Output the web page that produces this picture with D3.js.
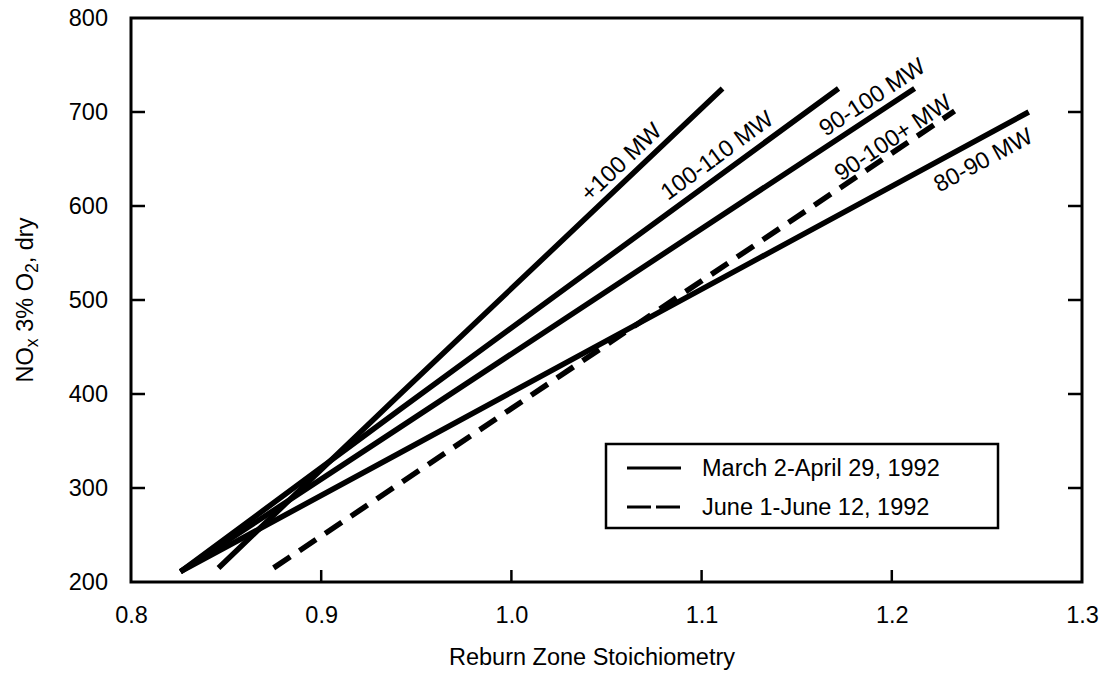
<!DOCTYPE html>
<html><head><meta charset="utf-8">
<script src="https://cdn.jsdelivr.net/npm/d3@7"></script>
<style>
html,body{margin:0;padding:0;background:#fff;}
svg text{font-family:"Liberation Sans",Arial,Helvetica,sans-serif;fill:#000;}
</style></head>
<body><svg id="c" width="1111" height="673"></svg>
<script>
// ---- data ----
const xTickValues = [0.8, 0.9, 1.0, 1.1, 1.2, 1.3];
const yTickValues = [200, 300, 400, 500, 600, 700, 800];
const seriesNames = ["+100 MW", "100-110 MW", "90-100 MW", "90-100+ MW", "80-90 MW"];
const seriesPeriod = ["mar", "mar", "mar", "jun", "mar"];
const seriesX = [
  [0.846, 0.941, 1.111],
  [0.826, 0.941, 1.172],
  [0.826, 0.941, 1.212],
  [0.875, 0.940, 1.233],
  [0.826, 0.941, 1.272]
];
const seriesY = [
  [215, 399, 725],
  [211, 383, 725],
  [211, 364, 725],
  [215, 303, 701],
  [211, 337, 700]
];
const labelX = [1.0576, 1.108, 1.1896, 1.2006, 1.248];
const labelY = [647, 654, 716, 673, 649];
const legendLabels = ["March 2-April 29, 1992", "June 1-June 12, 1992"];
const legendPeriods = ["mar", "jun"];

// ---- layout ----
const svg = d3.select("#c");
const L = 131, R = 1082, T = 18, B = 582;
const x = d3.scaleLinear().domain([0.8, 1.3]).range([L, R]);
const y = d3.scaleLinear().domain([200, 800]).range([B, T]);
const FS = 23.5;
const dashFor = p => p === "jun" ? "20,11" : null;

// frame
svg.append("rect").attr("x", L).attr("y", T).attr("width", R - L).attr("height", B - T)
  .attr("fill", "none").attr("stroke", "#000").attr("stroke-width", 3);

// axes (inward ticks)
const inner = v => v > 200 && v < 800;
const innerX = v => v > 0.8 + 1e-9 && v < 1.3 - 1e-9;
const fmtX = d3.format(".1f");
const gx = svg.append("g").attr("transform", `translate(0,${B})`)
  .call(d3.axisBottom(x).tickValues(xTickValues).tickSize(0).tickPadding(24).tickFormat(fmtX));
gx.select(".domain").remove();
gx.selectAll("text").attr("font-size", FS).attr("font-family", "Liberation Sans, Arial, sans-serif");
svg.append("g").selectAll("line").data(xTickValues.filter(innerX)).join("line")
  .attr("x1", d => x(d)).attr("x2", d => x(d)).attr("y1", B).attr("y2", B - 12)
  .attr("stroke", "#000").attr("stroke-width", 2.5);

const gy = svg.append("g").attr("transform", `translate(${L},0)`)
  .call(d3.axisLeft(y).tickValues(yTickValues).tickSize(0).tickPadding(23).tickFormat(d3.format("d")));
gy.select(".domain").remove();
gy.selectAll("text").attr("font-size", FS).attr("font-family", "Liberation Sans, Arial, sans-serif");
svg.append("g").selectAll("line").data(yTickValues.filter(inner)).join("line")
  .attr("x1", L).attr("x2", L + 14).attr("y1", d => y(d)).attr("y2", d => y(d))
  .attr("stroke", "#000").attr("stroke-width", 2.5);
svg.append("g").selectAll("line").data(yTickValues.filter(inner)).join("line")
  .attr("x1", R).attr("x2", R - 14).attr("y1", d => y(d)).attr("y2", d => y(d))
  .attr("stroke", "#000").attr("stroke-width", 2.5);

// axis titles
svg.append("text").attr("x", 592).attr("y", 665).attr("text-anchor", "middle")
  .attr("font-size", FS).text("Reburn Zone Stoichiometry");
const yt = svg.append("text").attr("transform", "translate(33,300) rotate(-90)")
  .attr("text-anchor", "middle").attr("font-size", FS);
yt.append("tspan").text("NO");
yt.append("tspan").attr("font-size", FS * 0.75).attr("dy", 5).text("x");
yt.append("tspan").attr("dy", -5).text(" 3% O");
yt.append("tspan").attr("font-size", FS * 0.75).attr("dy", 5).text("2");
yt.append("tspan").attr("dy", -5).text(", dry");

// series lines
const line = d3.line().x(d => x(d[0])).y(d => y(d[1]));
seriesNames.forEach((name, i) => {
  const pts = seriesX[i].map((v, j) => [v, seriesY[i][j]]);
  svg.append("path").datum(pts).attr("d", line)
    .attr("fill", "none").attr("stroke", "#000").attr("stroke-width", 5.5)
    .attr("stroke-dasharray", dashFor(seriesPeriod[i]));
  const a = pts[0], b = pts[pts.length - 1];
  const ang = Math.atan2(y(b[1]) - y(a[1]), x(b[0]) - x(a[0])) * 180 / Math.PI;
  svg.append("text")
    .attr("transform", `translate(${x(labelX[i])},${y(labelY[i])}) rotate(${ang})`)
    .attr("text-anchor", "middle").attr("dominant-baseline", "central")
    .attr("font-size", FS).text(name);
});

// legend
const lg = svg.append("g");
lg.append("rect").attr("x", 606).attr("y", 444).attr("width", 392).attr("height", 84)
  .attr("fill", "#fff").attr("stroke", "#000").attr("stroke-width", 2.5);
legendLabels.forEach((t, i) => {
  const yy = 468 + i * 39;
  lg.append("line").attr("x1", 627).attr("x2", 681).attr("y1", yy).attr("y2", yy)
    .attr("stroke", "#000").attr("stroke-width", 3)
    .attr("stroke-dasharray", legendPeriods[i] === "jun" ? "24,5" : null);
  lg.append("text").attr("x", 702).attr("y", yy).attr("dominant-baseline", "central")
    .attr("font-size", FS).text(t);
});
</script></body></html>
